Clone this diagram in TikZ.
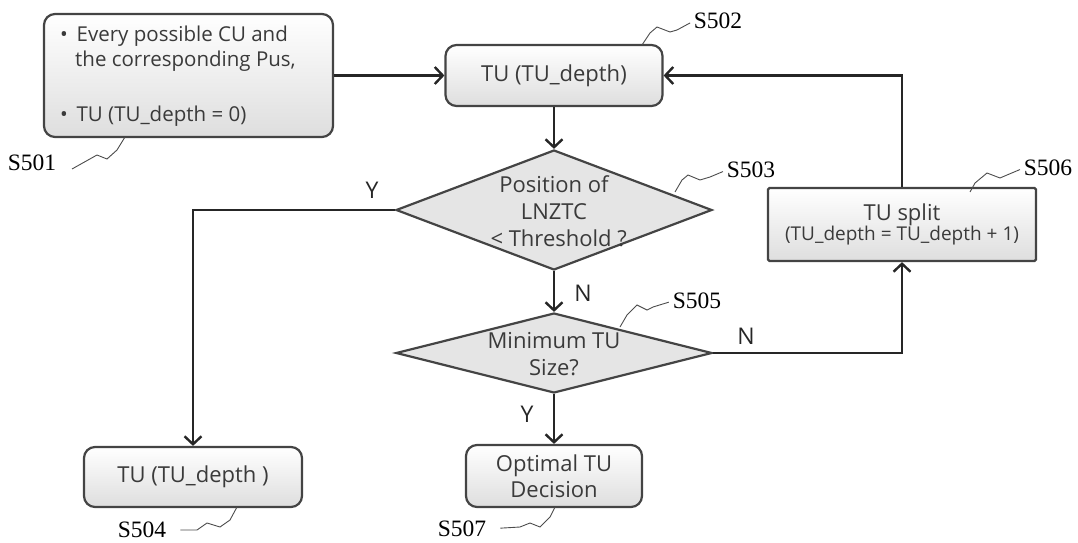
\documentclass[tikz,border=0pt]{standalone}
\usepackage{fontspec}
\setmainfont{Open Sans}
\newfontfamily\lblfont{Liberation Serif}
\usetikzlibrary{arrows.meta,shapes.geometric,calc}
\definecolor{txt}{HTML}{3A3A3A}
\definecolor{edge}{HTML}{444444}
\begin{document}
\begin{tikzpicture}[x=1pt,y=-1pt,
  every node/.style={font=\fontsize{22}{26}\selectfont, text=txt},
  procbox/.style={draw=edge, line width=2.2pt, rounded corners=11pt, top color=white, bottom color=black!13, inner sep=0pt, align=center},
  splitbox/.style={draw=edge, line width=2.2pt, rounded corners=1.5pt, top color=white, bottom color=black!13, inner sep=0pt, align=center},
  decshape/.style={draw=edge, line width=2.2pt, shape=diamond, fill=black!10, inner sep=0pt},
  flow/.style={draw=black!85, line width=2.4pt, -{Straight Barb[length=8pt,width=17pt,line width=2.4pt]}},
  tag/.style={font=\lblfont\fontsize{23.5}{26}\selectfont, text=black, inner sep=0pt},
  squig/.style={draw=black!70, line width=0.9pt},
  yn/.style={font=\fontsize{23}{26}\selectfont, text=black!85, inner sep=0pt}]
\useasboundingbox (0,0) rectangle (1078,543);

% nodes
\node[procbox, minimum width=289pt, minimum height=123pt] (s501) at (188.5,75.5) {};
\node[align=left, anchor=north west, inner sep=0pt, font=\fontsize{20.5}{25}\selectfont] (s501t) at (60,26)
  {\textbullet\ \,Every possible CU and\\\hspace*{15pt}the corresponding Pus,\\[30pt]\textbullet\ \,TU (TU\_depth = 0)};
\node[procbox, minimum width=217pt, minimum height=61pt] (s502) at (554,75.5) {TU (TU\_depth)};
\node[decshape, minimum width=316pt, minimum height=120pt] (s503) at (554,210) {};
\node[align=center, inner sep=0pt, font=\fontsize{22}{27}\selectfont] (s503t) at (554,211) {Position of\\LNZTC\\\ \,{<} Threshold ?};
\node[decshape, minimum width=316pt, minimum height=80pt] (s505) at (554,353) {};
\node[align=center, inner sep=0pt, font=\fontsize{22}{27}\selectfont] (s505t) at (554,354) {Minimum TU\\Size?};
\node[splitbox, minimum width=268pt, minimum height=73pt] (s506) at (902,224.5)
  {TU split\\[-6pt]{\fontsize{19}{23}\selectfont (TU\_depth = TU\_depth + 1)}};
\node[procbox, minimum width=218pt, minimum height=60pt] (s504) at (193,477) {TU (TU\_depth )};
\node[procbox, minimum width=176pt, minimum height=62pt, font=\fontsize{22}{26}\selectfont] (s507) at (554,476) {Optimal TU\\Decision};

% step labels
\node[tag] (l501) at (32,163) {S501};
\node[tag] (l502) at (718,21) {S502};
\node[tag] (l503) at (751,170) {S503};
\node[tag] (l504) at (142,530) {S504};
\node[tag] (l505) at (697,301) {S505};
\node[tag] (l506) at (1048,168) {S506};
\node[tag] (l507) at (462,529) {S507};

% squiggles
\draw[squig] (72,169) -- (97,155) -- (107,159) -- (117,150) -- (125,137);
\draw[squig, shorten >=4pt] (642,45) -- (650,33) -- (657,27) -- (670,32) -- (677,30) -- (l502.west);
\draw[squig, shorten >=4pt] (675,192) -- (682,180) -- (688,175) -- (700,180) -- (710,177) -- (l503.west);
\draw[squig, shorten >=4pt] (970,192) -- (975,183) -- (987,173) -- (1000,178) -- (1007,175) -- (l506.west);
\draw[squig, shorten >=4pt] (620,327) -- (627,315) -- (637,305) -- (647,310) -- (653,307) -- (l505.west);
\draw[squig, shorten >=14pt] (555,507) -- (550,517) -- (540,527) -- (530,523) -- (520,527) -- (l507.east);
\draw[squig, shorten >=14pt] (237,507) -- (230,520) -- (220,527) -- (207,523) -- (197,530) -- (l504.east);

% connectors
\draw[flow] (s501.east) -- (s502.west);
\draw[flow] (s502.south) -- (s503.north);
\draw[flow] (s503.west) -| (s504.north);
\draw[flow] (s503.south) -- (s505.north);
\draw[flow] (s505.east) -| (s506.south);
\draw[flow] (s506.north) |- (s502.east);
\draw[flow] (s505.south) -- (s507.north);

% branch labels
\node[yn] (y1) at (372,190) {Y};
\node[yn] (n1) at (583,293) {N};
\node[yn] (n2) at (746,336) {N};
\node[yn] (y2) at (527,414) {Y};
\end{tikzpicture}
\end{document}
